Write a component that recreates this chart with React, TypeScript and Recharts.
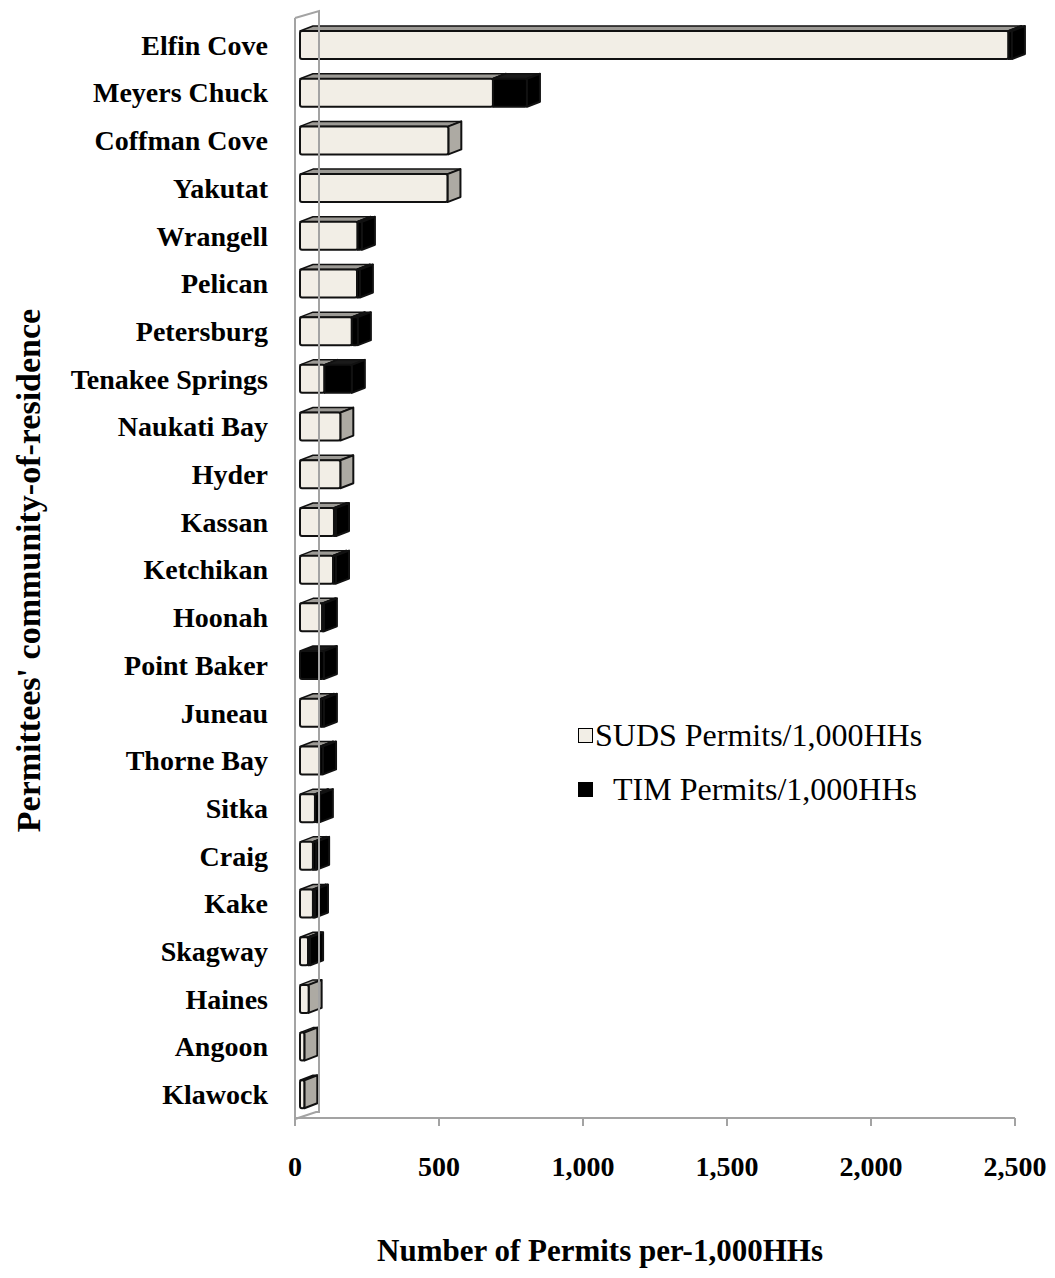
import { BarChart, Bar, XAxis, YAxis, Legend, ReferenceLine } from "recharts";

const communities = [
  "Elfin Cove",
  "Meyers Chuck",
  "Coffman Cove",
  "Yakutat",
  "Wrangell",
  "Pelican",
  "Petersburg",
  "Tenakee Springs",
  "Naukati Bay",
  "Hyder",
  "Kassan",
  "Ketchikan",
  "Hoonah",
  "Point Baker",
  "Juneau",
  "Thorne Bay",
  "Sitka",
  "Craig",
  "Kake",
  "Skagway",
  "Haines",
  "Angoon",
  "Klawock",
];
const sudsPerK = [2460, 670, 515, 512, 200, 198, 180, 85, 140, 140, 118, 115, 77, 0, 73, 70, 52, 45, 45, 28, 30, 15, 15];
const timPerK = [12, 118, 0, 0, 15, 10, 21, 95, 0, 0, 7, 10, 6, 83, 10, 10, 17, 11, 7, 7, 0, 0, 0];
const xTicks = [0, 500, 1000, 1500, 2000, 2500];

const data = communities.map((name, i) => ({
  name,
  suds: sudsPerK[i],
  tim: timPerK[i],
}));

const SERIF = '"Liberation Serif", "Times New Roman", serif';

// fake 3D box: front face is pushed right a little, depth goes up-right
const FRONT_SHIFT = 5;
const DEPTH_X = 13;
const DEPTH_Y = -5;

const boxShape = (front: string, top: string, side: string) => (props: any) => {
  const { x, y, width, height } = props;
  if (!width || width <= 0) return <g />;
  const fx = x + FRONT_SHIFT;
  const rx = fx + width;
  return (
    <g>
      <polygon
        points={`${fx},${y} ${rx},${y} ${rx + DEPTH_X},${y + DEPTH_Y} ${fx + DEPTH_X},${y + DEPTH_Y}`}
        fill={top}
        stroke="#111"
        strokeWidth={1.5}
        strokeLinejoin="round"
      />
      <polygon
        points={`${rx},${y} ${rx + DEPTH_X},${y + DEPTH_Y} ${rx + DEPTH_X},${y + height + DEPTH_Y} ${rx},${y + height}`}
        fill={side}
        stroke="#111"
        strokeWidth={2}
        strokeLinejoin="round"
      />
      <rect x={fx} y={y} width={width} height={height} rx={2} fill={front} stroke="#111" strokeWidth={2} />
    </g>
  );
};

// back wall + floor edge behind the bars
const Wall = (props: any) => {
  const { x1, y1, y2 } = props;
  const back = x1 + 24;
  return (
    <g fill="none" stroke="#A3A3A3" strokeWidth={2}>
      <path d={`M${x1},${y2 - 3} L${x1},${y1 + 1} L${back - 3},${y1 - 6} L${back},${y1 - 6} L${back},${y2 - 10} L${x1},${y2 - 3}`} />
    </g>
  );
};

const LegendBox = (props: any) => {
  const { payload } = props;
  return (
    <div style={{ fontFamily: SERIF, fontSize: 32, color: "#000", textAlign: "left" }}>
      {payload.map((p: any, i: number) => (
        <div
          key={p.value}
          style={{ display: "flex", alignItems: "center", height: 36, marginBottom: 18 }}
        >
          <span
            style={{
              display: "inline-block",
              width: 13,
              height: 13,
              border: "1.5px solid #000",
              background: p.color,
              marginRight: i === 0 ? 2 : 20,
            }}
          />
          <span>{p.value}</span>
        </div>
      ))}
    </div>
  );
};

const XTitle = (props: any) => {
  const { viewBox } = props;
  return (
    <text
      x={viewBox.x + 305}
      y={viewBox.y + 143}
      textAnchor="middle"
      fontFamily={SERIF}
      fontSize={31}
      fontWeight={700}
      fill="#000"
    >
      Number of Permits per-1,000HHs
    </text>
  );
};

const YTitle = (props: any) => {
  const { viewBox } = props;
  const cx = 20;
  const cy = viewBox.y + viewBox.height / 2 + 1;
  return (
    <text
      x={cx}
      y={cy}
      transform={`rotate(-90 ${cx} ${cy})`}
      textAnchor="middle"
      dominantBaseline="central"
      fontFamily={SERIF}
      fontSize={34}
      fontWeight={700}
      fill="#000"
    >
      Permittees' community-of-residence
    </text>
  );
};

export default function App() {
  return (
    <BarChart
      width={1039}
      height={1262}
      data={data}
      layout="vertical"
      margin={{ top: 13, right: 32, bottom: 0, left: 0 }}
      barSize={28}
    >
      <XAxis
        type="number"
        domain={[0, 2500]}
        ticks={xTicks}
        tickFormatter={(v: number) => v.toLocaleString("en-US")}
        height={152}
        axisLine={{ stroke: "#A3A3A3", strokeWidth: 2 }}
        tickLine={{ stroke: "#A3A3A3", strokeWidth: 2 }}
        tickSize={8}
        tickMargin={30}
        tick={{ fontFamily: SERIF, fontSize: 28, fontWeight: 700, fill: "#000" }}
        label={<XTitle />}
      />
      <YAxis
        type="category"
        dataKey="name"
        width={287}
        interval={0}
        axisLine={false}
        tickLine={false}
        tickSize={0}
        tickMargin={27}
        tick={{ fontFamily: SERIF, fontSize: 28, fontWeight: 700, fill: "#000" }}
        label={<YTitle />}
      />
      <ReferenceLine x={0} shape={(p: any) => <Wall {...p} />} />
      <Legend
        layout="vertical"
        align="center"
        verticalAlign="middle"
        content={<LegendBox />}
        wrapperStyle={{ left: 570, top: 709, width: 420, bottom: "auto", right: "auto" }}
      />
      <Bar
        dataKey="suds"
        name="SUDS Permits/1,000HHs"
        stackId="a"
        fill="#F2EEE6"
        isAnimationActive={false}
        shape={boxShape("#F2EEE6", "#9C9A95", "#ADAAA3")}
      />
      <Bar
        dataKey="tim"
        name="TIM Permits/1,000HHs"
        stackId="a"
        fill="#000000"
        isAnimationActive={false}
        shape={boxShape("#000000", "#1A1A1A", "#000000")}
      />
    </BarChart>
  );
}
